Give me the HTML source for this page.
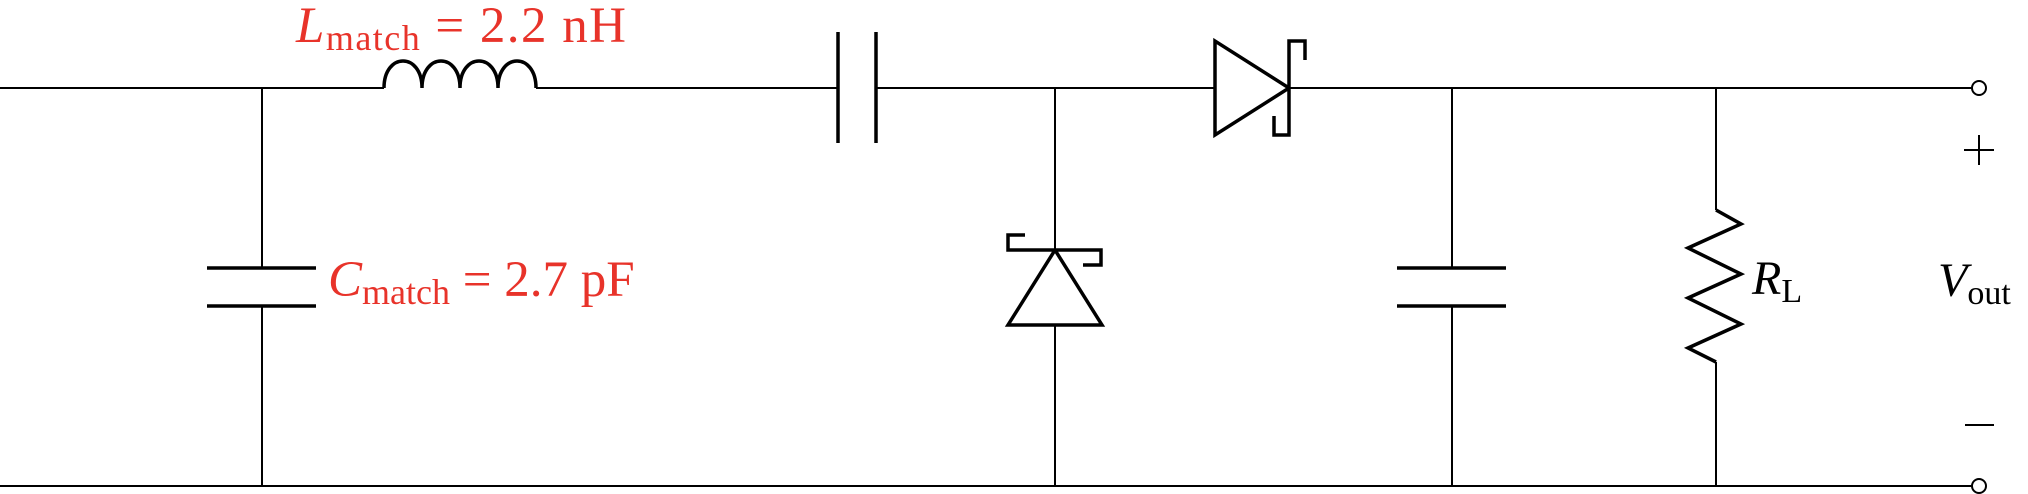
<!DOCTYPE html>
<html><head><meta charset="utf-8"><style>
html,body{margin:0;padding:0;background:#fff;}
svg{display:block;}
text{font-family:"Liberation Serif",serif;}
</style></head><body>
<svg width="2028" height="494" viewBox="0 0 2028 494">
<g fill="none" stroke="#000" stroke-width="2">
  <path d="M0,88 H384 M536,88 H838 M876,88 H1215 M1289,88 H1972"/>
  <path d="M0,486 H1972"/>
  <path d="M262,88 V268 M262,306 V486"/>
  <path d="M1055,88 V250 M1055,325 V486"/>
  <path d="M1452,88 V268 M1452,306 V486"/>
  <path d="M1716,88 V210 M1716,362 V486"/>
  <circle cx="1979" cy="88" r="7"/>
  <circle cx="1979" cy="486" r="7"/>
</g>
<g fill="none" stroke="#000" stroke-width="3.5" stroke-linejoin="miter">
  <path d="M384,88 C384,52 422,52 422,88 C422,52 460,52 460,88 C460,52 498,52 498,88 C498,52 536,52 536,88"/>
  <path d="M207,268 H316 M207,306 H316"/>
  <path d="M838,32 V143 M876,32 V143"/>
  <path d="M1055,250 L1008,325 H1102 Z M1025,235 H1008 V250 H1101 V265 H1083"/>
  <path d="M1215,41 V135 L1289,88 Z M1305,60 V41 H1289 V135 H1274 V116"/>
  <path d="M1397,268 H1506 M1397,306 H1506"/>
  <path d="M1716,210 L1741,224 L1688,248 L1741,274 L1688,298 L1741,324 L1688,348 L1716,362"/>
</g>
<text x="296" y="42" fill="#e8332a" font-size="51" textLength="330"><tspan font-style="italic">L</tspan><tspan font-size="36" dy="8">match</tspan><tspan dy="-8"> = 2.2 nH</tspan></text>
<text x="328" y="296" fill="#e8332a" font-size="51"><tspan font-style="italic">C</tspan><tspan font-size="36" dy="8">match</tspan><tspan dy="-8"> = 2.7 pF</tspan></text>
<text x="1752" y="294" fill="#000" font-size="48"><tspan font-style="italic">R</tspan><tspan font-size="34" dy="8">L</tspan></text>
<text x="1938" y="296" fill="#000" font-size="48"><tspan font-style="italic">V</tspan><tspan font-size="34" dy="8">out</tspan></text>
<g stroke="#000" stroke-width="2">
  <path d="M1964,150 H1994 M1979,135 V165"/>
  <path d="M1965,425 H1994"/>
</g>
</svg>
</body></html>
